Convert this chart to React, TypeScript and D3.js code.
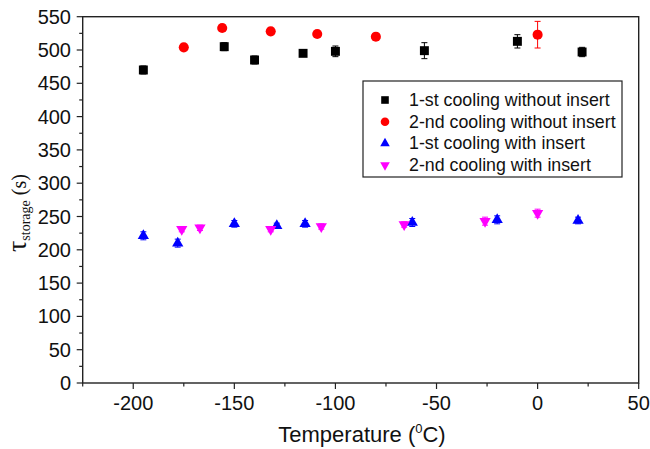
import React from "react";
import * as d3 from "d3";

const xTicks = [-200, -150, -100, -50, 0, 50];
const yTicks = [0, 50, 100, 150, 200, 250, 300, 350, 400, 450, 500, 550];

const s1Label = "1-st cooling without insert";
const s1X = [-195, -155, -140, -116, -100, -56, -10, 22];
const s1Y = [470, 505, 485, 495, 498, 499, 513, 497];
const s1E = [6, 6, 6, 3, 8, 12, 10, 7];

const s2Label = "2-nd cooling without insert";
const s2X = [-175, -156, -132, -109, -80, 0];
const s2Y = [504, 533, 528, 524, 520, 523];
const s2E = [3, 5, 3, 3, 3, 20];

const s3Label = "1-st cooling with insert";
const s3X = [-195, -178, -150, -129, -115, -62, -20, 20];
const s3Y = [221, 210, 239, 236, 239, 241, 245, 244];
const s3E = [6, 6, 5, 4, 5, 6, 6, 5];

const s4Label = "2-nd cooling with insert";
const s4X = [-176, -167, -132, -107, -66, -26, 0];
const s4Y = [231, 233, 231, 235, 238, 243, 255];
const s4E = [4, 4, 4, 4, 4, 6, 6];

const W = 650;
const H = 449;
const L = 82.7, R = 638.7, T = 16.7, B = 383;

const x = d3.scaleLinear().domain([-225, 50]).range([L, R]);
const y = d3.scaleLinear().domain([0, 550]).range([B, T]);

const sq = d3.symbol().type(d3.symbolSquare).size(80)() as string;
const circ = d3.symbol().type(d3.symbolCircle).size(80)() as string;
const tri = d3.symbol().type(d3.symbolTriangle).size(55)() as string;

const series = [
  { label: s1Label, xs: s1X, ys: s1Y, es: s1E, color: "#000000", path: sq, rot: 0 },
  { label: s2Label, xs: s2X, ys: s2Y, es: s2E, color: "#ff0000", path: circ, rot: 0 },
  { label: s3Label, xs: s3X, ys: s3Y, es: s3E, color: "#0000ff", path: tri, rot: 0 },
  { label: s4Label, xs: s4X, ys: s4Y, es: s4E, color: "#ff00ff", path: tri, rot: 180 },
];

const axisColor = "#222";

export default function App() {
  const xMinor = d3.range(-225, 50.1, 25);
  const yMinor = d3.range(0, 550.1, 25);
  return (
    <svg width={W} height={H} style={{ position: "absolute", left: 0, top: 0 }} fontFamily="Liberation Sans, Arial, sans-serif">
      <rect x={0} y={0} width={W} height={H} fill="#fff" />
      {/* frame */}
      <rect x={L} y={T} width={R - L} height={B - T} fill="none" stroke={axisColor} strokeWidth={1.4} />
      {/* x ticks */}
      {xMinor.map((v) => (
        <line key={"xm" + v} x1={x(v)} x2={x(v)} y1={B} y2={B + (v % 50 === 0 ? 6 : 3.5)} stroke={axisColor} strokeWidth={1.2} />
      ))}
      {xTicks.map((v) => (
        <text key={"xt" + v} x={x(v)} y={410} fontSize={20} textAnchor="middle" fill="#111">
          {v}
        </text>
      ))}
      {/* y ticks */}
      {yMinor.map((v) => (
        <line key={"ym" + v} y1={y(v)} y2={y(v)} x1={L} x2={L - (v % 50 === 0 ? 6 : 3.5)} stroke={axisColor} strokeWidth={1.2} />
      ))}
      {yTicks.map((v) => (
        <text key={"yt" + v} x={71} y={y(v) + 7} fontSize={20} textAnchor="end" fill="#111">
          {v}
        </text>
      ))}
      {/* axis titles */}
      <text x={362} y={442} fontSize={22} textAnchor="middle" fill="#111">
        Temperature (<tspan fontSize={13} dy={-9}>0</tspan>
        <tspan dy={9}>C)</tspan>
      </text>
      <text transform="translate(26,213) rotate(-90)" textAnchor="middle" fontFamily="Liberation Serif, Times New Roman, serif" fill="#111">
        <tspan fontSize={28}>τ</tspan>
        <tspan fontSize={14} dy={4}>storage</tspan>
        <tspan fontSize={20} dy={-4}> (s)</tspan>
      </text>
      {/* data */}
      {series.map((s, si) => (
        <g key={"s" + si}>
          {s.xs.map((xv, i) => {
            const cx = x(xv);
            const cy = y(s.ys[i]);
            const y1 = y(s.ys[i] + s.es[i]);
            const y2 = y(s.ys[i] - s.es[i]);
            return (
              <g key={i}>
                <line x1={cx} x2={cx} y1={y1} y2={y2} stroke={s.color} strokeWidth={1} />
                <line x1={cx - 3} x2={cx + 3} y1={y1} y2={y1} stroke={s.color} strokeWidth={1} />
                <line x1={cx - 3} x2={cx + 3} y1={y2} y2={y2} stroke={s.color} strokeWidth={1} />
                <path d={s.path} transform={`translate(${cx},${cy}) rotate(${s.rot})`} fill={s.color} />
              </g>
            );
          })}
        </g>
      ))}
      {/* legend */}
      <rect x={363} y={81} width={259} height={96} fill="#fff" stroke={axisColor} strokeWidth={1.2} />
      {series.map((s, i) => {
        const ly = 100 + i * 21.7;
        return (
          <g key={"lg" + i}>
            <path d={s.path} transform={`translate(385,${ly}) rotate(${s.rot}) scale(0.85)`} fill={s.color} />
            <text x={409} y={ly + 6} fontSize={17.8} fill="#111">
              {s.label}
            </text>
          </g>
        );
      })}
    </svg>
  );
}
